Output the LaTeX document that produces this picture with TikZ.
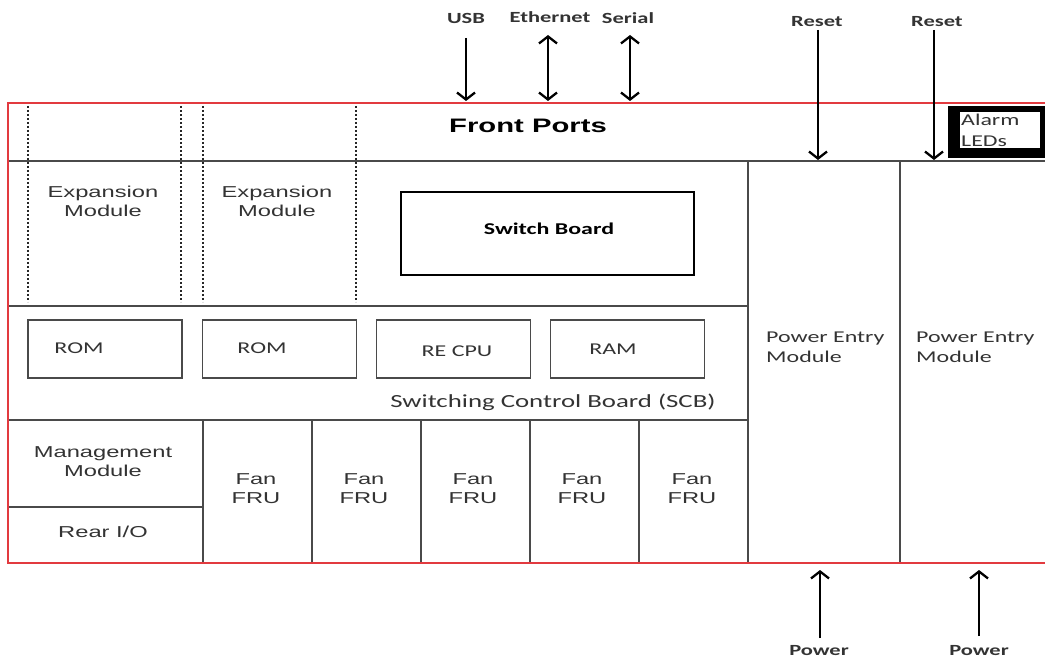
\documentclass[tikz,border=0pt]{standalone}
\usepackage{fontspec}
\usetikzlibrary{arrows.meta}
\newfontfamily\arialf{Liberation Sans}[FakeStretch=1.5]
\newfontfamily\calf{Carlito}[FakeStretch=1.45]
\definecolor{txt}{HTML}{333333}
\definecolor{ln}{HTML}{4A4A4A}
\definecolor{redb}{HTML}{E23A3F}
\begin{document}
\begin{tikzpicture}[x=1pt,y=-1pt,
  ar/.style={font=\arialf\fontsize{15.8}{19}\selectfont, text=txt, align=center, inner sep=0pt},
  arb/.style={font=\arialf\bfseries\fontsize{19.5}{22}\selectfont, text=black, inner sep=0pt},
  ca/.style={font=\calf\fontsize{16.5}{20}\selectfont, text=txt, inner sep=0pt},
  lab/.style={font=\calf\bfseries\fontsize{15.5}{18}\selectfont, text=txt, inner sep=0pt},
  part/.style={draw=ln, line width=1.8pt, minimum width=154pt, minimum height=58pt, inner sep=0pt},
  cell/.style={draw=ln, line width=1.6pt},
  dots/.style={draw=black!85, line width=2.2pt, dash pattern=on 2pt off 2pt},
  tip/.tip={Straight Barb[length=7pt,width=18pt]},
  arr/.style={line width=2.3pt, -tip},
  darr/.style={line width=2.3pt, tip-tip}]
\useasboundingbox (0,0) rectangle (1045,660);

% internal grid
\draw[cell] (8,161) -- (1045,161);
\draw[cell] (8,306) -- (748,306);
\draw[cell] (8,420) -- (748,420);
\draw[cell] (8,507) -- (203,507);
\draw[cell] (748,161) -- (748,563);
\draw[cell] (900,161) -- (900,563);
\foreach \x in {203,312,421,530,639} \draw[cell] (\x,420) -- (\x,563);

% dotted expansion slots
\foreach \x in {28,181,203,356} \draw[dots] (\x,106) -- (\x,302);

% red outline
\draw[redb, line width=2pt] (1045,103) -- (8,103) -- (8,563) -- (1045,563);

% alarm LEDs
\fill[black] (948,106) rectangle (1045,158);
\fill[white] (960,112) rectangle (1040,148);
\node[font=\calf\fontsize{16.5}{21}\selectfont, text=txt, inner sep=0pt, anchor=west, align=left] (alarm) at (961,130) {Alarm\\LEDs};

% texts
\node[arb] (front) at (528,126) {Front Ports};
\node[ar] (exp1) at (103,201) {Expansion\\Module};
\node[ar] (exp2) at (277,201) {Expansion\\Module};

\node[draw=black, line width=1.8pt, minimum width=293pt, minimum height=83pt] (sw) at (547.5,233.5) {};
\node[font=\calf\bfseries\fontsize{16.5}{20}\selectfont, text=black, inner sep=0pt] (swt) at (549,229) {Switch Board};

\node[part] (rom1) at (105,349) {};
\node[part] (rom2) at (279.5,349) {};
\node[part] (cpu) at (453.5,349) {};
\node[part] (ram) at (627.5,349) {};
\node[ca] at (79,348) {ROM};
\node[ca] at (262,348) {ROM};
\node[ca] at (457,351) {RE CPU};
\node[ca] at (613,349) {RAM};
\node[font=\calf\fontsize{18.5}{22}\selectfont, text=txt, inner sep=0pt] (scb) at (553,402) {Switching Control Board (SCB)};

\node[ar] (mgmt) at (103,462) {Management\\Module};
\node[ar] (rear) at (103,532) {Rear I/O};
\foreach \c/\n in {256/f1,364/f2,473/f3,582/f4,692/f5}
  \node[ar] (\n) at (\c,489) {Fan\\FRU};

\node[ca, anchor=west, align=left] (pem1) at (766,347) {Power Entry\\Module};
\node[ca, anchor=west, align=left] (pem2) at (916,347) {Power Entry\\Module};

% external labels
\node[lab] (usb) at (466,18) {USB};
\node[lab] (eth) at (550,17) {Ethernet};
\node[lab] (ser) at (628,18) {Serial};
\node[lab] (rst1) at (817,22) {Reset};
\node[lab] (rst2) at (937,22) {Reset};
\node[lab] (pw1) at (819,651) {Power};
\node[lab] (pw2) at (979,651) {Power};

% arrow end points
\coordinate (usbS) at (466,38);   \coordinate (usbE) at (466,101);
\coordinate (ethS) at (548,35);   \coordinate (ethE) at (548,101);
\coordinate (serS) at (630,35);   \coordinate (serE) at (630,101);
\coordinate (r1S) at (818,30);    \coordinate (r1E) at (818,160);
\coordinate (r2S) at (934,30);    \coordinate (r2E) at (934,160);
\coordinate (p1S) at (820,638);   \coordinate (p1E) at (820,570);
\coordinate (p2S) at (979,636);   \coordinate (p2E) at (979,570);

\draw[arr] (usbS) -- (usbE);
\draw[darr] (ethS) -- (ethE);
\draw[darr] (serS) -- (serE);
\draw[arr] (r1S) -- (r1E);
\draw[arr] (r2S) -- (r2E);
\draw[arr] (p1S) -- (p1E);
\draw[arr] (p2S) -- (p2E);
\end{tikzpicture}
\end{document}
